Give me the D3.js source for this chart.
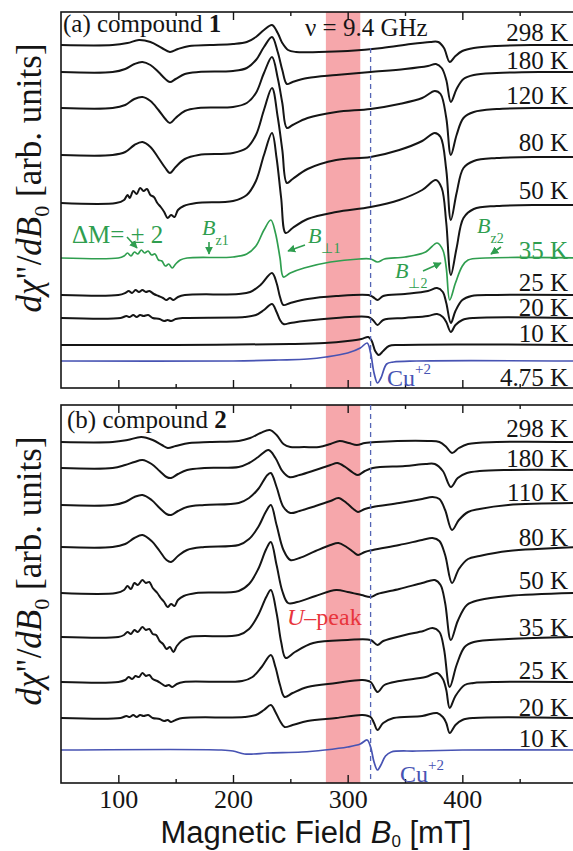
<!DOCTYPE html>
<html>
<head>
<meta charset="utf-8">
<script src="https://cdn.jsdelivr.net/npm/d3@7"></script>
<style>
  body { margin: 0; background: #fff; }
  svg text { font-family: "Liberation Serif", "Times New Roman", serif; }
</style>
</head>
<body>
<svg width="573" height="851"></svg>
<script>
// field axis (mT)
const xTicks = [100, 200, 300, 400];
const xMinor = [150, 250, 350, 450];
const uBand = [281, 311];
const cuField = 320;

// (a) compound 1 : [B (mT), signal (arb.)]
const tempsA = ['298 K', '180 K', '120 K', '80 K', '50 K', '35 K', '25 K', '20 K', '10 K', '4.75 K'];
const baseA = [343, 316, 280, 233, 185, 130, 93, 70, 43, 27];

const a298 = [[50,0],[95,0],[108,2],[118,5],[128,3],[138,-3],[145,-7],[152,-4],[162,-1],[180,0],[200,1],[212,3],[220,8],[227,15],[234,20],[239,12],[243,2],[248,-5],[255,-7],[275,-7],[300,-6],[330,-3],[355,1],[372,3],[379,3],[384,-3],[389,-17],[394,-11],[400,-6],[410,-3],[430,-1],[460,0],[500,0]];
const a180 = [[50,0],[95,0],[106,3],[114,8],[121,10],[128,7],[135,0],[141,-7],[145,-10],[150,-7],[158,-2],[170,0],[200,1],[212,4],[220,12],[227,25],[234,35],[239,20],[243,2],[247,-12],[252,-10],[265,-6],[290,-3],[320,0],[350,3],[370,6],[377,8],[382,4],[386,-8],[390,-30],[395,-17],[401,-7],[410,-3],[430,-1],[470,0],[500,0]];
const a120 = [[50,0],[95,0],[106,3],[114,9],[121,11],[128,7],[135,-2],[141,-11],[145,-15],[150,-10],[158,-3],[170,0],[200,1],[212,5],[220,15],[227,35],[234,51],[239,30],[243,5],[247,-20],[252,-17],[265,-10],[290,-4],[320,-1],[345,4],[365,10],[376,17],[381,14],[386,-10],[390,-47],[395,-27],[401,-10],[410,-4],[430,-1],[470,0],[500,0]];
const a80 = [[50,0],[95,0],[106,3],[114,10],[121,13],[128,8],[135,-3],[141,-13],[145,-18],[150,-12],[158,-4],[170,0],[200,2],[212,7],[220,20],[227,45],[234,67],[239,38],[243,5],[247,-28],[252,-24],[265,-14],[290,-5],[320,-2],[345,5],[365,14],[376,22],[381,18],[386,-15],[390,-65],[395,-38],[401,-13],[410,-6],[430,-3],[470,-2],[500,-2]];
const a50 = [[50,0],[98,0],[105,3],[108,8],[110,5],[113,12],[116,9],[119,15],[122,12],[125,14],[128,8],[131,6],[134,0],[137,-4],[140,-9],[143,-15],[146,-12],[149,-14],[152,-7],[157,-3],[168,0],[200,2],[212,8],[220,22],[227,48],[234,70],[238,45],[242,5],[246,-30],[252,-25],[265,-16],[290,-9],[320,-4],[345,3],[365,13],[377,23],[382,15],[386,-20],[390,-72],[395,-45],[401,-15],[410,-6],[430,-3],[470,-2],[500,-2]];
const a35 = [[50,0],[100,0],[105,2],[108,5],[111,2],[114,6],[117,4],[120,8],[123,5],[126,7],[129,3],[132,4],[135,-2],[138,-3],[141,-8],[144,-6],[147,-10],[150,-6],[154,-2],[160,0],[200,1],[212,4],[220,12],[227,28],[233,38],[237,25],[241,0],[244,-19],[250,-15],[262,-10],[285,-4],[310,-1],[320,-1],[326,-4],[332,-1],[350,1],[368,6],[378,15],[383,8],[386,-10],[389,-42],[394,-25],[400,-8],[405,-2],[420,0],[500,0]];
const a25 = [[50,0],[100,0],[106,2],[109,4],[112,2],[115,5],[118,3],[121,5],[124,3],[127,4],[131,1],[135,-1],[139,-3],[142,-5],[145,-3],[148,-5],[152,-2],[158,0],[205,1],[215,3],[224,10],[234,22],[238,12],[241,-2],[244,-10],[250,-8],[265,-4],[290,-1],[318,0],[322,-2],[326,-5],[331,-1],[350,1],[370,4],[378,7],[383,3],[386,-8],[390,-28],[394,-16],[400,-5],[408,-1],[430,0],[500,0]];
const a20 = [[50,0],[102,0],[107,2],[110,1],[113,3],[116,1],[119,3],[122,2],[126,3],[130,0],[136,-1],[140,-3],[143,-2],[146,-3],[150,-1],[156,0],[210,1],[220,3],[227,8],[234,14],[238,6],[241,-2],[244,-6],[250,-5],[262,-3],[290,0],[318,1],[322,-2],[326,-7],[331,-2],[350,0],[370,2],[378,4],[383,1],[386,-4],[390,-14],[394,-7],[400,-2],[410,0],[500,0]];
const a10 = [[50,0],[150,0],[250,1],[280,2],[300,4],[312,6],[318,8],[321,4],[324,-6],[327,-10],[331,-6],[336,-1],[345,0],[500,0]];
const a475 = [[50,0],[200,0],[240,1],[265,2],[281,4],[300,8],[311,13],[317,18],[320,8],[323,-12],[326,-22],[329,-17],[334,-3],[340,-1],[360,0],[500,0]];
const spectraA = [a298, a180, a120, a80, a50, a35, a25, a20, a10, a475];

// (b) compound 2
const tempsB = ['298 K', '180 K', '110 K', '80 K', '50 K', '35 K', '25 K', '20 K', '10 K'];
const baseB = [341, 315, 278, 236, 190, 146, 101, 65, 33];

const b298 = [[50,0],[95,0],[108,2],[120,5],[130,2],[138,-3],[143,-6],[150,-4],[162,-1],[180,0],[205,1],[215,4],[224,9],[232,12],[238,7],[244,-2],[250,-5],[262,-5],[275,-5],[285,-2],[293,1],[301,-1],[308,-3],[315,-1],[325,0],[370,1],[380,0],[386,-5],[391,-11],[397,-6],[405,-2],[430,0],[500,0]];
const b180 = [[50,0],[95,0],[106,3],[114,6],[121,8],[129,4],[136,-3],[142,-9],[146,-10],[152,-6],[160,-2],[175,0],[205,1],[214,5],[222,11],[231,18],[237,10],[243,-3],[249,-9],[258,-7],[272,-2],[285,3],[291,5],[298,1],[305,-5],[309,-7],[315,-3],[322,0],[350,2],[368,4],[376,4],[383,-3],[390,-19],[396,-10],[404,-5],[415,-3],[440,-2],[500,-2]];
const b110 = [[50,0],[95,0],[106,3],[114,8],[121,10],[129,5],[136,-3],[142,-9],[146,-10],[152,-6],[160,-2],[175,0],[205,2],[214,7],[222,16],[230,30],[233,32],[238,18],[244,-2],[250,-8],[258,-6],[272,-1],[285,4],[292,7],[299,2],[305,-4],[309,-7],[315,-4],[322,-2],[345,2],[365,6],[374,8],[380,6],[385,-5],[391,-25],[397,-15],[405,-7],[415,-4],[440,0],[500,2]];
const b80 = [[50,0],[95,0],[106,3],[114,9],[121,12],[129,6],[136,-4],[142,-13],[146,-15],[152,-9],[160,-3],[175,0],[205,2],[214,8],[222,20],[229,36],[233,42],[238,22],[244,-3],[250,-13],[258,-11],[272,-4],[285,2],[292,4],[299,0],[305,-5],[309,-8],[315,-5],[322,-3],[345,2],[365,7],[374,9],[380,6],[385,-8],[391,-36],[397,-22],[405,-12],[415,-9],[440,-4],[500,0]];
const b50 = [[50,0],[98,0],[105,3],[108,7],[111,4],[114,10],[117,8],[121,13],[124,10],[127,11],[130,5],[134,0],[137,-5],[140,-9],[143,-14],[146,-11],[149,-13],[152,-7],[157,-3],[168,0],[205,2],[214,9],[222,24],[229,44],[233,51],[238,28],[243,2],[248,-10],[256,-9],[272,-3],[290,3],[300,1],[312,-2],[320,-4],[326,-1],[345,4],[365,10],[376,13],[381,8],[385,-10],[390,-47],[396,-28],[404,-12],[415,-7],[440,-3],[500,0]];
const b35 = [[50,0],[100,0],[105,2],[108,5],[111,3],[114,7],[117,5],[121,10],[124,7],[127,8],[130,3],[133,2],[136,-4],[139,-7],[142,-12],[145,-10],[148,-15],[151,-9],[155,-4],[162,0],[205,2],[214,8],[222,22],[229,40],[233,47],[238,24],[242,-5],[246,-21],[254,-15],[270,-6],[300,-3],[320,-3],[326,-8],[331,-4],[350,2],[366,6],[374,9],[380,5],[384,-12],[389,-50],[395,-28],[402,-10],[410,-5],[440,-2],[500,0]];
const b25 = [[50,0],[100,0],[106,2],[109,5],[112,3],[115,6],[118,5],[121,9],[124,6],[127,7],[130,3],[134,1],[138,-2],[141,-4],[144,-3],[147,-5],[151,-2],[157,0],[208,1],[217,5],[225,15],[233,27],[237,15],[241,-3],[245,-15],[252,-11],[265,-5],[290,-1],[313,2],[320,0],[326,-10],[332,-3],[345,1],[368,5],[378,9],[383,3],[386,-8],[389,-26],[394,-14],[402,-3],[410,-1],[430,0],[500,0]];
const b20 = [[50,0],[102,0],[107,2],[110,1],[113,3],[116,1],[119,3],[122,2],[126,3],[130,0],[136,-1],[140,-3],[143,-2],[146,-4],[150,-2],[156,0],[210,1],[220,3],[227,8],[233,13],[237,6],[241,-3],[245,-9],[252,-7],[265,-3],[290,0],[313,3],[320,1],[323,-5],[326,-12],[331,-5],[340,0],[365,2],[378,5],[383,1],[386,-5],[389,-15],[394,-7],[400,-2],[410,0],[500,0]];
const b10 = [[50,0],[190,0],[200,-1],[210,-4],[218,-4],[230,-3],[260,-2],[280,0],[300,3],[311,6],[317,10],[320,3],[323,-12],[326,-20],[329,-15],[333,-6],[338,-2],[360,-1],[400,0],[500,0]];
const spectraB = [b298, b180, b110, b80, b50, b35, b25, b20, b10];

const svg = d3.select('svg');
const black = '#151515', green = '#2f9e4f', blue = '#4753b3', red = '#e8353c';
const left = 61, right = 577;

const x = d3.scaleLinear().domain([50, 500]).range([left, right]);

svg.append('defs').append('marker')
    .attr('id', 'head')
    .attr('viewBox', '0 0 10 10')
    .attr('refX', 9).attr('refY', 5)
    .attr('markerWidth', 5).attr('markerHeight', 5)
    .attr('orient', 'auto')
  .append('path')
    .attr('d', 'M0,0L10,5L0,10z')
    .attr('fill', green);

function drawPanel(top, bottom, spectra, base, temps, colours, labelColours, labelDy, clipId) {
  const y = d3.scaleLinear().domain([0, bottom - top]).range([bottom, top]);
  const g = svg.append('g');

  g.append('clipPath').attr('id', clipId)
    .append('rect')
      .attr('x', left).attr('y', top)
      .attr('width', right - left).attr('height', bottom - top);

  // U-peak band
  g.append('rect')
    .attr('x', x(uBand[0]))
    .attr('y', top)
    .attr('width', x(uBand[1]) - x(uBand[0]))
    .attr('height', bottom - top)
    .attr('fill', '#f6a7ab');

  const line = d3.line()
    .x(d => x(d[0]))
    .curve(d3.curveCatmullRom.alpha(0.5));

  g.append('g')
    .attr('clip-path', `url(#${clipId})`)
    .selectAll('path')
    .data(spectra)
    .enter()
    .append('path')
      .attr('d', (d, i) => line.y(p => y(base[i] + p[1]))(d))
      .attr('fill', 'none')
      .attr('stroke', (d, i) => colours[i])
      .attr('stroke-width', (d, i) => colours[i] === black ? 2 : 1.7)
      .attr('stroke-linejoin', 'round');

  g.selectAll('text.temp')
    .data(temps)
    .enter()
    .append('text')
      .classed('temp', true)
      .attr('x', 568)
      .attr('y', (d, i) => y(base[i]) + labelDy[i])
      .attr('text-anchor', 'end')
      .style('font-size', '25px')
      .attr('fill', (d, i) => labelColours[i])
      .text(d => d);

  // frame and inward ticks
  g.append('rect')
    .attr('x', left).attr('y', top)
    .attr('width', right - left).attr('height', bottom - top)
    .attr('fill', 'none').attr('stroke', black).attr('stroke-width', 1.6);

  const ticks = [
    [d3.axisBottom(x).tickValues(xTicks).tickSize(-8), bottom],
    [d3.axisBottom(x).tickValues(xMinor).tickSize(-4), bottom],
    [d3.axisTop(x).tickValues(xTicks).tickSize(-8), top],
    [d3.axisTop(x).tickValues(xMinor).tickSize(-4), top]
  ];
  ticks.forEach(([ax, yy]) => {
    const a = g.append('g')
      .attr('transform', `translate(0, ${yy})`)
      .call(ax.tickFormat(''));
    a.select('.domain').remove();
    a.selectAll('line').attr('stroke', black).attr('stroke-width', 1.4);
  });

  return y;
}

const coloursA = tempsA.map((t, i) => i === 5 ? green : i === 9 ? blue : black);
const coloursB = tempsB.map((t, i) => i === 8 ? blue : black);
const labelColoursA = tempsA.map((t, i) => i === 5 ? green : black);
const labelColoursB = tempsB.map(() => black);
const dyA = [-4, -3, -4, -4, -4, 1, -4, -2, -3, 25];
const dyB = [-5, -1, -4, -1, -4, -1, -3, -2, -3];

drawPanel(12, 388, spectraA, baseA, tempsA, coloursA, labelColoursA, dyA, 'clipA');
drawPanel(405, 783, spectraB, baseB, tempsB, coloursB, labelColoursB, dyB, 'clipB');

// Cu+2 reference field
[[48, 388], [405, 783]].forEach(([y0, y1]) => {
  svg.append('line')
    .attr('x1', x(cuField)).attr('x2', x(cuField))
    .attr('y1', y0).attr('y2', y1)
    .attr('stroke', '#5565b5')
    .attr('stroke-width', 1.3)
    .attr('stroke-dasharray', '5,4');
});

// tick labels
const xAxis = svg.append('g')
  .attr('transform', 'translate(0, 783)')
  .call(d3.axisBottom(x).tickValues(xTicks).tickSize(0).tickPadding(7));
xAxis.select('.domain').remove();
xAxis.selectAll('text')
  .style('font-family', '"Liberation Serif", serif')
  .style('font-size', '26px')
  .attr('fill', black);

// axis titles
const xt = svg.append('text')
  .attr('x', 316).attr('y', 843)
  .attr('text-anchor', 'middle')
  .style('font-family', '"Liberation Sans", Arial, sans-serif')
  .style('font-size', '31px')
  .attr('fill', black);
xt.append('tspan').text('Magnetic Field ');
xt.append('tspan').style('font-style', 'italic').text('B');
xt.append('tspan').attr('dy', 4).style('font-size', '17px').text('0');
xt.append('tspan').attr('dy', -4).text(' [mT]');

[178, 571].forEach(cy => {
  const t = svg.append('text')
    .attr('transform', `translate(41, ${cy}) rotate(-90)`)
    .attr('text-anchor', 'middle')
    .style('font-size', '35px')
    .attr('fill', black);
  t.append('tspan').style('font-style', 'italic').text('d\u03c7');
  t.append('tspan').text('"/');
  t.append('tspan').style('font-style', 'italic').text('dB');
  t.append('tspan').attr('dy', 8).style('font-size', '22px').text('0');
  t.append('tspan').attr('dy', -8).text(' [arb. units]');
});

// panel titles
const ta = svg.append('text').attr('x', 63).attr('y', 32).style('font-size', '25px').attr('fill', black);
ta.append('tspan').text('(a) compound ');
ta.append('tspan').style('font-weight', 'bold').text('1');

const tb = svg.append('text').attr('x', 67).attr('y', 428).style('font-size', '25px').attr('fill', black);
tb.append('tspan').text('(b) compound ');
tb.append('tspan').style('font-weight', 'bold').text('2');

svg.append('text')
  .attr('x', 305).attr('y', 36)
  .style('font-size', '25px')
  .attr('fill', black)
  .text('\u03bd = 9.4 GHz');

// green annotations on the 35 K trace
function bLabel(xx, yy, sub, size) {
  const t = svg.append('text')
    .attr('x', xx).attr('y', yy)
    .attr('fill', green)
    .style('font-size', `${size}px`);
  t.append('tspan').style('font-style', 'italic').text('B');
  t.append('tspan').attr('dy', 10).style('font-size', '14px').text(sub);
}
function arrow(x1, y1, x2, y2) {
  svg.append('line')
    .attr('x1', x1).attr('y1', y1).attr('x2', x2).attr('y2', y2)
    .attr('stroke', green).attr('stroke-width', 1.6)
    .attr('marker-end', 'url(#head)');
}

svg.append('text')
  .attr('x', 72).attr('y', 243)
  .attr('fill', green)
  .style('font-size', '25px')
  .text('\u0394M= \u00b1 2');
arrow(127, 237, 137, 248);

bLabel(202, 235, 'z1', 22);
arrow(209, 242, 209, 254);
bLabel(308, 243, '\u22a51', 22);
arrow(305, 245, 288, 251);
bLabel(395, 278, '\u22a52', 22);
arrow(423, 271, 441, 263);
bLabel(477, 233, 'z2', 22);
arrow(501, 247, 491, 254);

// Cu+2 labels
[[387, 386], [400, 782]].forEach(([xx, yy]) => {
  const t = svg.append('text')
    .attr('x', xx).attr('y', yy)
    .attr('fill', blue)
    .style('font-size', '24px');
  t.append('tspan').text('Cu');
  t.append('tspan').attr('dy', -12).style('font-size', '15px').text('+2');
});

// U-peak label
const up = svg.append('text')
  .attr('x', 287).attr('y', 625)
  .attr('fill', red)
  .style('font-size', '24px');
up.append('tspan').style('font-style', 'italic').text('U');
up.append('tspan').text('\u2013peak');
</script>
</body>
</html>
